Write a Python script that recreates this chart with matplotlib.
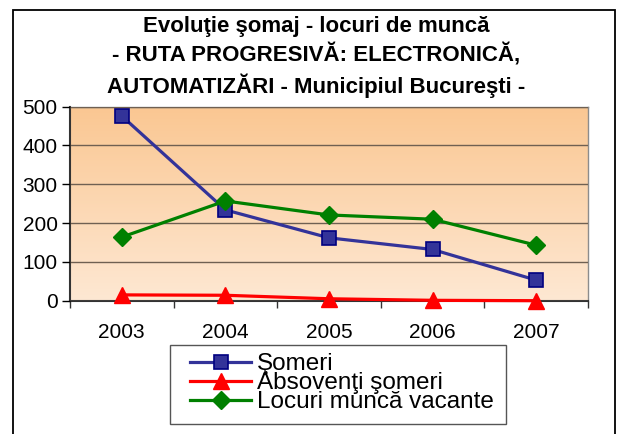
import numpy as np
import matplotlib
matplotlib.use("Agg")
import matplotlib.pyplot as plt
from matplotlib.patches import Rectangle
from matplotlib.colors import LinearSegmentedColormap

plt.rcParams['font.family'] = ['Liberation Sans', 'DejaVu Sans']

# data
years = ['2003', '2004', '2005', '2006', '2007']
someri = [476, 234, 162, 132, 53]
absolventi = [15, 14, 5, 1, 0]
locuri = [164, 257, 221, 210, 143]

title = ("Evoluţie şomaj - locuri de muncă\n"
         "- RUTA PROGRESIVĂ: ELECTRONICĂ,\n"
         "AUTOMATIZĂRI - Municipiul Bucureşti -")

fig = plt.figure(figsize=(6.18, 4.34), dpi=100)
W, H = 618, 434
ax = fig.add_axes([70 / W, (H - 300.7) / H, (588 - 70) / W, (300.7 - 106.7) / H])

# outer frame of the chart object
fig.patches.append(Rectangle((13 / W, -0.05), (615 - 13) / W, (H - 10) / H + 0.05,
                             transform=fig.transFigure, fill=False,
                             edgecolor='black', linewidth=1.3))
# legend box (drawn by hand, wider padding on the sides than on top)
fig.patches.append(Rectangle((170 / W, 1 - 424 / H), (506 - 170) / W, (424 - 345) / H,
                             transform=fig.transFigure, facecolor='white',
                             edgecolor='#555555', linewidth=1))

# gradient background of the plot area
cmap = LinearSegmentedColormap.from_list('bg', ['#FEE8D3', '#FAC792'])
grad = np.linspace(0, 1, 256).reshape(-1, 1)
ax.imshow(grad, aspect='auto', cmap=cmap, origin='lower',
          extent=[-0.5, 4.5, 0, 500], zorder=0)

x = np.arange(len(years))
ax.plot(x, someri, color='#333399', lw=2.3, marker='s', markersize=10,
        markerfacecolor='#333399', markeredgecolor='#000080', markeredgewidth=1.2,
        label='Şomeri', zorder=3)
ax.plot(x, absolventi, color='#FF0000', lw=2.3, marker='^', markersize=11,
        markerfacecolor='#FF0000', markeredgecolor='#FF0000',
        label='Absovenţi şomeri', zorder=3, clip_on=False)
ax.plot(x, locuri, color='#008000', lw=2.3, marker='D', markersize=9,
        markerfacecolor='#008000', markeredgecolor='#008000',
        label='Locuri muncă vacante', zorder=3)

ax.set_xlim(-0.5, 4.5)
ax.set_ylim(0, 500)
ax.set_yticks([0, 100, 200, 300, 400, 500])
ax.yaxis.grid(True, color='#6f6052', lw=1)
ax.set_axisbelow(False)
for gl in ax.get_ygridlines():
    gl.set_zorder(1)

ax.set_xticks(x)
ax.set_xticklabels(years)
ax.set_xticks(np.arange(-0.5, 5, 1), minor=True)
ax.tick_params(axis='x', which='major', length=0, pad=16, labelsize=15)
ax.tick_params(axis='x', which='minor', length=5, width=1, color='#333333')
ax.tick_params(axis='y', length=6, width=1, pad=3, labelsize=15)

for s in ['left', 'bottom']:
    ax.spines[s].set_color('#333333')
    ax.spines[s].set_linewidth(1.5)
for s in ['top', 'right']:
    ax.spines[s].set_color('#8c8c8c')
    ax.spines[s].set_linewidth(1)

fig.text(316 / W, 1 - 57 / H, title, ha='center', va='center',
         fontsize=16, fontweight='bold', linespacing=1.38)

leg = fig.legend(loc='upper left', bbox_to_anchor=(183 / W, 1 - 346 / H),
                 fontsize=17.5, labelspacing=-0.12, handlelength=2.5,
                 handletextpad=0.25, borderpad=0.3, borderaxespad=0,
                 frameon=False)

fig.savefig('out.png', dpi=100)
